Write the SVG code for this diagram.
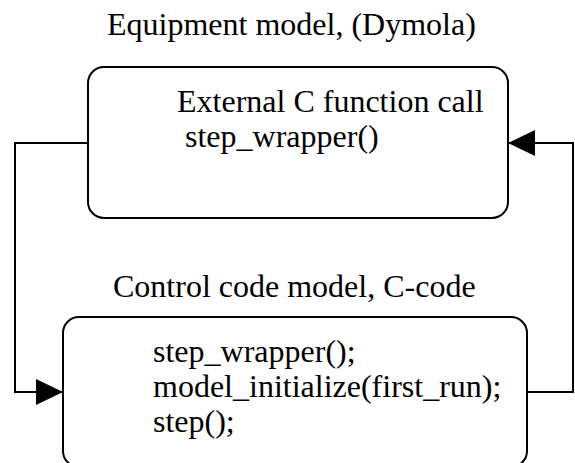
<svg xmlns="http://www.w3.org/2000/svg" width="575" height="463" viewBox="0 0 575 463">
  <style>
    .box { fill: #ffffff; stroke: #000000; stroke-width: 2; }
    .wire { fill: none; stroke: #000000; stroke-width: 2; }
    text { font-family: "Liberation Serif", "Times New Roman", serif; font-size: 32px; fill: #000000; }
  </style>
  <defs>
    <marker id="arrow" viewBox="0 0 27 26" refX="27" refY="13" markerWidth="27" markerHeight="26" markerUnits="userSpaceOnUse" orient="auto">
      <path d="M0,0 L27,13 L0,26 Z" fill="#000000"/>
    </marker>
  </defs>

  <text x="107" y="35">Equipment model, (Dymola)</text>
  <text x="113" y="297">Control code model, C-code</text>

  <g id="equipment-model">
    <rect class="box" x="88" y="67" width="420" height="151" rx="16" ry="16"/>
    <text x="177" y="112">External C function call</text>
    <text x="185" y="147">step_wrapper()</text>
  </g>

  <g id="control-code-model">
    <rect class="box" x="63" y="317" width="464" height="150" rx="16" ry="16"/>
    <text x="153" y="362">step_wrapper();</text>
    <text x="153" y="397">model_initialize(first_run);</text>
    <text x="153" y="432">step();</text>
  </g>

  <g id="connectors">
    <path class="wire" d="M88,143 H15 V392 H63" marker-end="url(#arrow)"/>
    <path class="wire" d="M527,392 H573 V143 H508" marker-end="url(#arrow)"/>
  </g>
</svg>
